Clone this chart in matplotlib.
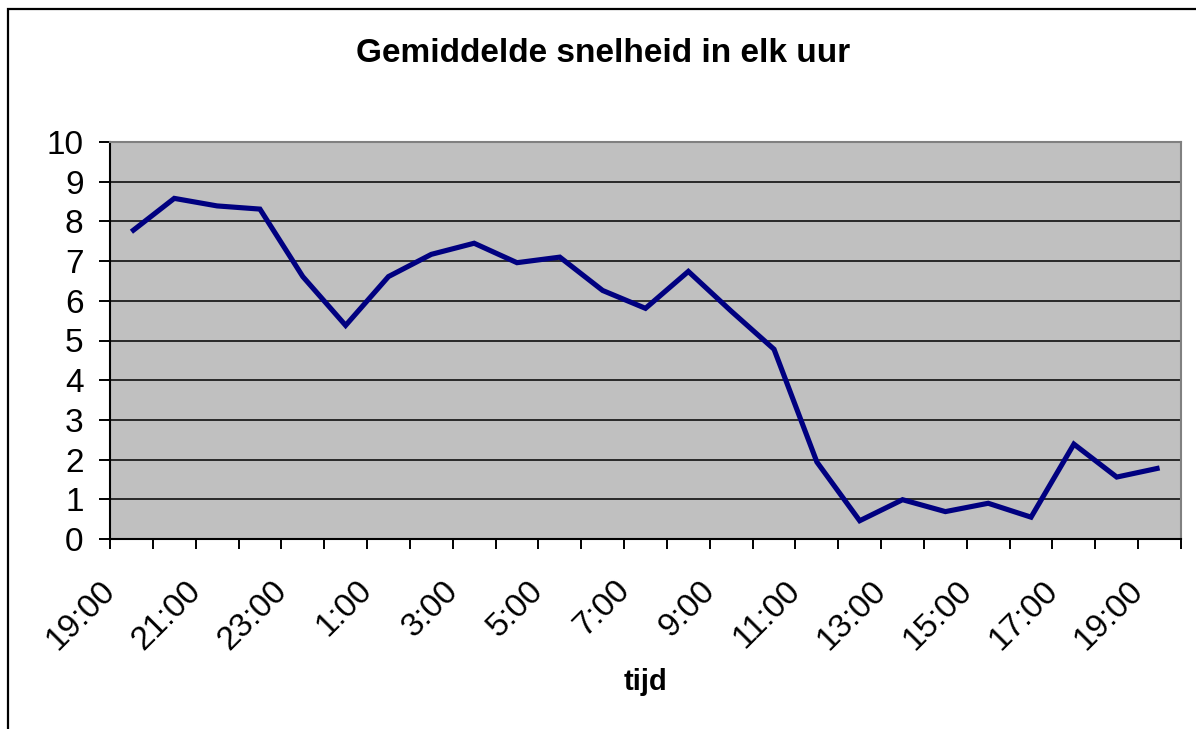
import matplotlib
matplotlib.use("Agg")
import matplotlib.pyplot as plt
import matplotlib.transforms as mtransforms
from matplotlib.patches import Rectangle
import numpy as np

# hourly average speed, 19:00 through 19:00 the next day
hours = ["19:00", "20:00", "21:00", "22:00", "23:00", "0:00", "1:00", "2:00",
         "3:00", "4:00", "5:00", "6:00", "7:00", "8:00", "9:00", "10:00",
         "11:00", "12:00", "13:00", "14:00", "15:00", "16:00", "17:00",
         "18:00", "19:00"]
speed = [7.74, 8.58, 8.39, 8.31, 6.61, 5.38, 6.61, 7.17, 7.45, 6.96, 7.10,
         6.26, 5.81, 6.74, 5.74, 4.78, 1.94, 0.46, 0.99, 0.69, 0.90, 0.55,
         2.39, 1.56, 1.79]
yticks = list(range(0, 11))

plt.rcParams['font.family'] = ['Liberation Sans', 'DejaVu Sans']

fig = plt.figure(figsize=(11.96, 7.29), dpi=100)
ax = fig.add_axes([110/1196, 1 - 539/729, 1071/1196, 397/729])

x = np.arange(len(hours))
ax.set_facecolor('#C0C0C0')
ax.plot(x, speed, color='#000080', linewidth=3.7, solid_joinstyle='miter',
        solid_capstyle='butt', zorder=3)

# gridlines
for v in yticks[1:-1]:
    ax.axhline(v, color='black', linewidth=1.1, zorder=1)

ax.set_ylim(0, 10)
ax.set_xlim(-0.5, len(hours) - 0.5)
ax.set_yticks(yticks)
ax.set_yticklabels([str(v) for v in yticks], fontsize=24)
ax.tick_params(axis='y', direction='out', length=8, width=1.4, pad=11)

# labels every two hours, tick marks on every category boundary
ax.set_xticks(x[::2])
ax.set_xticklabels(hours[::2], fontsize=24, rotation=45, ha='right',
                   va='baseline', rotation_mode='anchor')
ax.set_xticks(np.arange(-0.5, len(hours)), minor=True)
ax.tick_params(axis='x', which='major', length=0, pad=38)
ax.tick_params(axis='x', which='minor', direction='out', length=7.5, width=1.4)
shift = mtransforms.ScaledTranslation(-15/100, 0, fig.dpi_scale_trans)
for lab in ax.get_xticklabels():
    lab.set_transform(lab.get_transform() + shift)

for s in ['left', 'bottom']:
    ax.spines[s].set_color('black')
    ax.spines[s].set_linewidth(1.5)
for s in ['top', 'right']:
    ax.spines[s].set_color('#808080')
    ax.spines[s].set_linewidth(1.5)

fig.text(603/1196, 1 - 53/729, 'Gemiddelde snelheid in elk uur', fontsize=24,
         fontweight='bold', ha='center', va='center')
ax.set_xlabel('tijd', fontsize=21, fontweight='bold')
ax.xaxis.set_label_coords(0.5, -(682 - 539) / 397)
ax.xaxis.label.set_va('center')

# chart area border (runs off the right and bottom of the picture)
fig.patches.append(Rectangle((7.5/1196, -0.1), 1.2, 1 - 8.5/729 + 0.1,
                             transform=fig.transFigure, fill=False,
                             edgecolor='black', linewidth=1.6))

fig.savefig('out.png', dpi=100)
